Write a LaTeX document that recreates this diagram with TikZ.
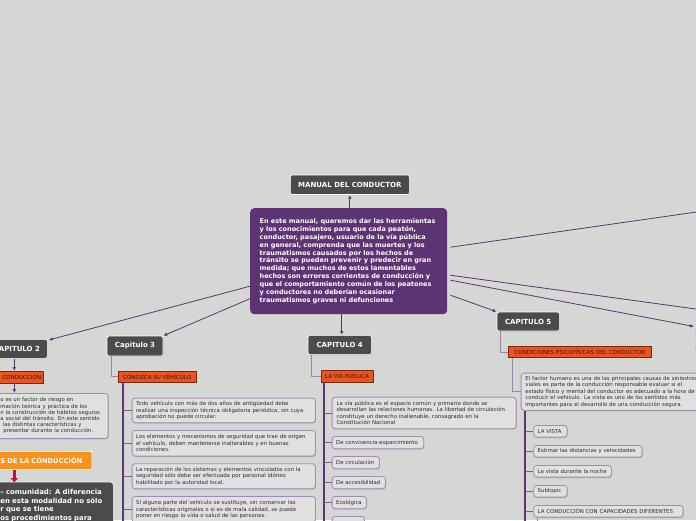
\documentclass[tikz,border=0pt]{standalone}
\usepackage{fontspec}
\setmainfont{DejaVu Sans}
\usetikzlibrary{arrows.meta,shadows,calc}
\definecolor{bg}{RGB}{213,215,212}
\definecolor{darkbox}{RGB}{75,75,75}
\definecolor{mainpurple}{RGB}{94,51,115}
\definecolor{linkpurple}{RGB}{94,51,115}
\definecolor{thinlink}{RGB}{155,132,172}
\definecolor{orangelab}{RGB}{233,84,32}
\definecolor{orangeedge}{RGB}{120,40,15}
\definecolor{orangetext}{RGB}{60,20,8}
\definecolor{subfill}{RGB}{224,224,224}
\definecolor{subedge}{RGB}{160,140,176}
\definecolor{subtext}{RGB}{45,45,45}
\definecolor{btnorange}{RGB}{247,147,30}
\definecolor{redlink}{RGB}{200,20,40}
\definecolor{lightnode}{RGB}{240,240,240}
\newcommand\Ln[1]{\mbox{#1}}
\begin{document}
\begin{tikzpicture}[x=1pt,y=-1pt,
  chap/.style={draw=white, line width=0.7pt, fill=darkbox, rounded corners=2pt, text=white,
    font=\bfseries\fontsize{7}{8}\selectfont, inner sep=0pt, anchor=north west,
    drop shadow={opacity=0.35,shadow xshift=0.6pt,shadow yshift=-0.8pt}},
  lab/.style={draw=orangeedge, line width=0.5pt, fill=orangelab, text=orangetext,
    font=\fontsize{5.6}{6.2}\selectfont, inner sep=0pt, anchor=north west,
    drop shadow={opacity=0.3,shadow xshift=0.5pt,shadow yshift=-0.7pt}},
  subbox/.style={draw=subedge, line width=0.8pt, fill=subfill, rounded corners=3pt, text=subtext,
    font=\fontsize{5.4}{6.5}\selectfont, inner xsep=4pt, inner ysep=0pt, anchor=north west, align=left,
    drop shadow={opacity=0.4,shadow xshift=0.5pt,shadow yshift=-1pt}},
  mainbox/.style={fill=mainpurple, rounded corners=4pt, text=white,
    font=\bfseries\fontsize{6.5}{7.94}\selectfont, align=left, inner sep=0pt, anchor=north west},
  link/.style={draw=linkpurple, line width=0.8pt, -{Latex[length=4pt,width=3.5pt]}},
  plainlink/.style={draw=linkpurple, line width=0.8pt},
  trunk/.style={draw=linkpurple, line width=1.8pt},
  tick/.style={draw=linkpurple!80, line width=0.8pt},
  thinl/.style={draw=thinlink, line width=0.7pt}]
\useasboundingbox (0,0) rectangle (696,520);
\fill[bg] (0,0) rectangle (696,520);
\clip (0,0) rectangle (696,520);

% central nodes
\node[chap, minimum width=119pt, minimum height=19.5pt] (manual) at (290,174.7) {MANUAL DEL CONDUCTOR};
\node[mainbox, text width=178pt, minimum width=197pt, minimum height=106pt] (main) at (250,208)
{\Ln{En este manual, queremos dar las herramientas}\\
\Ln{y los conocimientos para que cada peatón,}\\
\Ln{conductor, pasajero, usuario de la vía pública}\\
\Ln{en general, comprenda que las muertes y los}\\
\Ln{traumatismos causados por los hechos de}\\
\Ln{tránsito se pueden prevenir y predecir en gran}\\
\Ln{medida; que muchos de estos lamentables}\\
\Ln{hechos son errores corrientes de conducción y}\\
\Ln{que el comportamiento común de los peatones}\\
\Ln{y conductores no deberían ocasionar}\\
\Ln{traumatismos graves ni defunciones}};

% chapter nodes
\node[chap, minimum width=61pt, minimum height=19pt] (cap2) at (-14,339) {CAPITULO 2};
\node[chap, minimum width=56pt, minimum height=20pt] (cap3) at (106.7,335.7) {Capitulo 3};
\node[chap, minimum width=63.3pt, minimum height=19.3pt] (cap4) at (307.7,335) {CAPITULO 4};
\node[chap, minimum width=62.3pt, minimum height=19pt] (cap5) at (496.7,311.7) {CAPITULO 5};
\node[draw=subedge, fill=lightnode, rounded corners=2pt, minimum width=40pt, minimum height=20pt, anchor=north west] (capr) at (695,329.5) {};

% connectors from main
\draw[link] (main.north -| manual.south) -- (manual.south);
\coordinate (m2) at ($(main.west)+(0,25)$);
\coordinate (m3) at ($(main.west)+(0,37.5)$);
\draw[link] (m2) -- ([xshift=1pt,yshift=-1pt]cap2.north east);
\draw[link] (m3) -- (cap3.north east);
\draw[link] ([xshift=2pt]cap4.north |- main.south) -- ([xshift=2pt]cap4.north);
\draw[link] ($(main.east)+(3,34)$) -- (cap5.north west);
\draw[link] ($(main.east)+(3,19)$) -- ([xshift=-1pt,yshift=3pt]capr.north west);
\coordinate (r1) at (700,211.5);
\coordinate (r2) at (700,309.6);
\draw[plainlink] ($(main.east)+(3,-14)$) -- (r1);
\draw[plainlink] ($(main.east)+(3,14)$) -- (r2);

% ---------- Capitulo 2 ----------
\coordinate (c2x) at (14.3,0);
\node[lab, minimum width=83pt, minimum height=12pt, text width=79pt, align=right] (lab2) at (-40,371) {CONDUCCIÓN};
\node[subbox, font=\fontsize{5.4}{6.2}\selectfont, inner xsep=0pt, text width=147.7pt, minimum height=45pt] (b2) at (-40,393)
{\Ln{\hspace*{40pt}o es un factor de riesgo en}\\
\Ln{\hspace*{40pt}mación teórica y práctica de los}\\
\Ln{\hspace*{40pt}n la construcción de hábitos seguros}\\
\Ln{\hspace*{40pt}a social del tránsito. En este sentido}\\
\Ln{\hspace*{42.5pt}las distintas características y}\\
\Ln{\hspace*{43pt}presentar durante la conducción.}};
\draw[link] (c2x |- cap2.south) -- (c2x |- lab2.north);
\draw[link] (c2x |- lab2.south) -- (c2x |- b2.north);
\node[draw=white, line width=0.7pt, fill=btnorange, rounded corners=2pt, text=white,
  font=\bfseries\fontsize{6.7}{7.5}\selectfont, inner sep=0pt, anchor=north west,
  minimum width=131.7pt, minimum height=18pt, text width=131.7pt, align=left,
  drop shadow={opacity=0.3,shadow xshift=0.6pt,shadow yshift=-0.8pt}] (btn) at (-40,451)
  {\hspace*{40pt}S DE LA CONDUCCIÓN};
\node[draw=lightnode, line width=0.7pt, fill=darkbox, rounded corners=3pt, text=white,
  font=\bfseries\fontsize{6.9}{8.7}\selectfont, inner xsep=0pt, inner ysep=7pt, anchor=north west,
  text width=153pt, align=left] (dk) at (-40,481.7)
  {\Ln{\hspace*{40pt}– comunidad: A diferencia}\\
   \Ln{\hspace*{40pt}en esta modalidad no sólo}\\
   \Ln{\hspace*{40pt}r que se tiene}\\
   \Ln{\hspace*{40pt}os procedimientos para}};
\draw[draw=redlink, line width=2.6pt, -{Triangle[length=4pt,width=7pt]}] (c2x |- btn.south) -- ([yshift=-0.5pt]c2x |- dk.north);

% ---------- Capitulo 3 ----------
\node[lab, minimum width=77.4pt, minimum height=11.6pt] (lab3) at (118.3,370.7) {CONOZCA SU VEHÍCULO};
\draw[thinl] ([xshift=4.3pt]cap3.south west) |- (lab3.west);
\node[subbox, text width=175.3pt, minimum height=24.6pt] (b31) at (131.7,397.7)
{\Ln{Todo vehículo con más de dos años de antigüedad debe}\\
\Ln{realizar una inspección técnica obligatoria periódica, sin cuya}\\
\Ln{aprobación no puede circular.}};
\node[subbox, text width=175.3pt, minimum height=25.7pt] (b32) at (131.7,430)
{\Ln{Los elementos y mecanismos de seguridad que trae de origen}\\
\Ln{el vehículo, deben mantenerse inalterables y en buenas}\\
\Ln{condiciones.}};
\node[subbox, text width=175.3pt, minimum height=25pt] (b33) at (131.7,463.3)
{\Ln{La reparación de los sistemas y elementos vinculados con la}\\
\Ln{seguridad sólo debe ser efectuada por personal idóneo}\\
\Ln{habilitado por la autoridad local.}};
\node[subbox, text width=175.3pt, minimum height=26pt] (b34) at (131.7,496)
{\Ln{Si alguna parte del vehículo se sustituye, sin conservar las}\\
\Ln{características originales o si es de mala calidad, se puede}\\
\Ln{poner en riesgo la vida o salud de las personas.}};
\coordinate (t3) at (122.7,382.3);
\coordinate (t3e) at (122.7,530);
\draw[trunk] (t3) -- (t3e);
\foreach \b in {b31,b32,b33,b34} \draw[tick] (\b.west -| t3) -- (\b.west);

% ---------- Capitulo 4 ----------
\node[lab, minimum width=52pt, minimum height=11.7pt] (lab4) at (320.7,370) {LA VIA PUBLICA};
\draw[thinl] ([xshift=4pt]cap4.south west) |- (lab4.west);
\node[subbox, inner xsep=4.5pt, text width=175pt, minimum height=31.6pt] (b41) at (331.7,396.7)
{\Ln{La vía pública es el espacio común y primario donde se}\\
\Ln{desarrollan las relaciones humanas. La libertad de circulación}\\
\Ln{constituye un derecho inalienable, consagrado en la}\\
\Ln{Constitución Nacional}};
\node[subbox, text width=83.6pt, minimum height=12.3pt] (b42) at (331.7,436) {\Ln{De convivencia-esparcimiento}};
\node[subbox, text width=39.3pt, minimum height=12.3pt] (b43) at (331.7,456) {\Ln{De circulación}};
\node[subbox, text width=45.3pt, minimum height=12.3pt] (b44) at (331.7,476) {\Ln{De accesibilidad}};
\node[subbox, text width=26.3pt, minimum height=12.3pt] (b45) at (331.7,496) {\Ln{Ecológica}};
\node[subbox, text width=24.3pt, minimum height=12.3pt] (b46) at (331.7,516) {};
\coordinate (t4) at (324,381.7);
\coordinate (t4e) at (324,530);
\draw[trunk] (t4) -- (t4e);
\foreach \b in {b41,b42,b43,b44,b45,b46} \draw[tick] (\b.west -| t4) -- (\b.west);

% ---------- Capitulo 5 ----------
\node[lab, minimum width=142.7pt, minimum height=11.3pt] (lab5) at (508.3,346) {CONDICIONES PSICOFÍSICAS DEL CONDUCTOR};
\draw[thinl] ([xshift=3.3pt]cap5.south west) |- (lab5.west);
\node[subbox, inner xsep=4.3pt, text width=190pt, minimum height=37.3pt] (b50) at (520.7,372.7)
{\Ln{El factor humano es una de las principales causas de siniestros}\\
\Ln{viales es parte de la conducción responsable evaluar si el}\\
\Ln{estado físico y mental del conductor es adecuado a la hora de}\\
\Ln{conducir el vehículo. La vista es uno de los sentidos más}\\
\Ln{importantes para el desarrollo de una conducción segura.}};
\draw[thinl] ([xshift=4.4pt]lab5.south west) |- (b50.west);
\node[subbox, text width=25.4pt, minimum height=11.7pt] (b51) at (533.3,425) {\Ln{LA VISTA}};
\node[subbox, text width=100.4pt, minimum height=11.7pt] (b52) at (533.3,445) {\Ln{Estimar las distancias y velocidades}};
\node[subbox, text width=69.7pt, minimum height=11.7pt] (b53) at (533.3,465) {\Ln{La vista durante la noche}};
\node[subbox, text width=25.4pt, minimum height=11.7pt] (b54) at (533.3,485) {\Ln{Subtopic}};
\node[subbox, text width=141.4pt, minimum height=11.7pt] (b55) at (533.3,505) {\Ln{LA CONDUCCIÓN CON CAPACIDADES DIFERENTES}};
\coordinate (t5) at (525,410.5);
\coordinate (t5e) at (525,530);
\draw[trunk] (t5) -- (t5e);
\foreach \b in {b51,b52,b53,b54,b55} \draw[tick] (\b.west -| t5) -- (\b.west);
\coordinate (t55) at (537.7,530);
\draw[thinl] (t55 |- b55.south) -- (t55);
\end{tikzpicture}
\end{document}
